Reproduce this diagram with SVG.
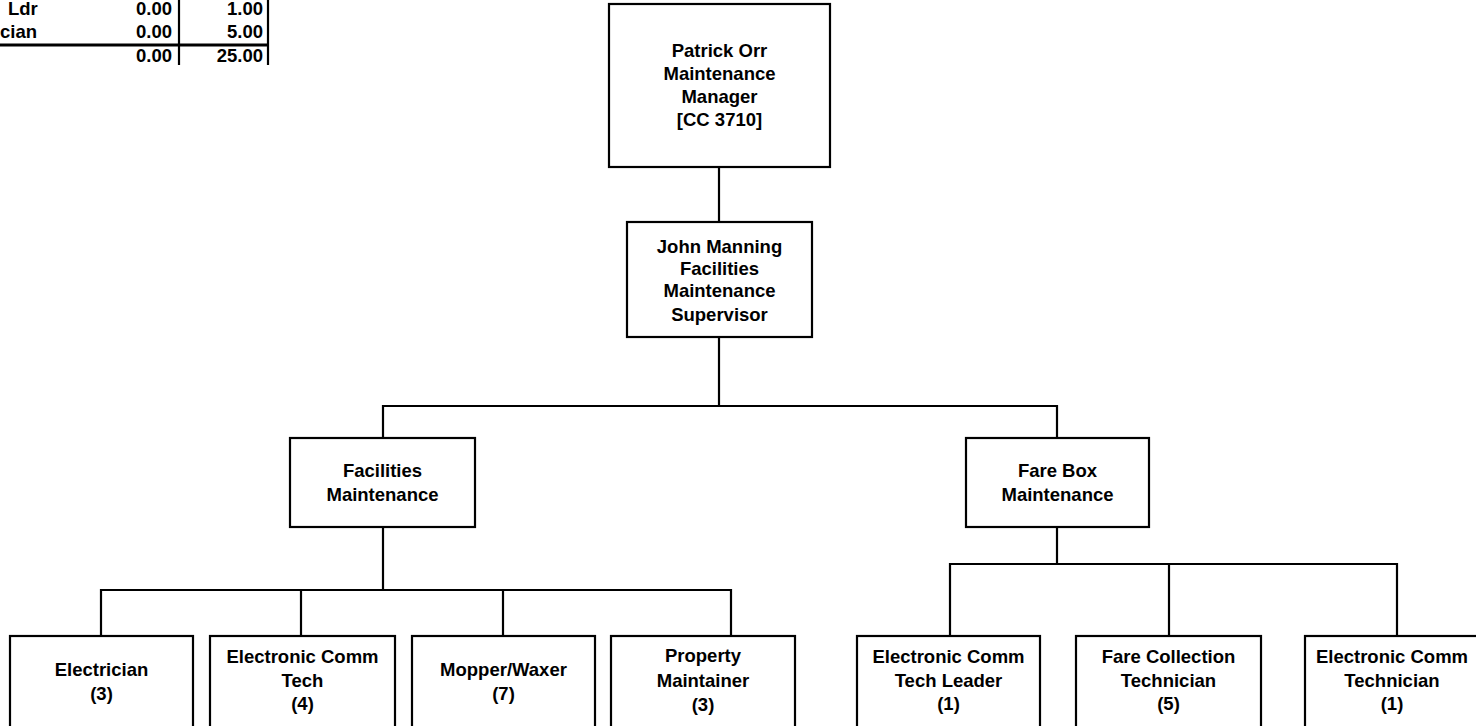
<svg xmlns="http://www.w3.org/2000/svg" width="1476" height="726" viewBox="0 0 1476 726">
<style>
.box{fill:#fff;stroke:#000;stroke-width:2.2}
.ln{fill:none;stroke:#000;stroke-width:2.2}
text{font-family:"Liberation Sans",Arial,sans-serif;font-weight:bold;font-size:18.5px;fill:#000}
.c{text-anchor:middle}
.r{text-anchor:end}
</style>
<rect width="1476" height="726" fill="#fff"/>
<g id="table">
<text x="8" y="14.5">Ldr</text>
<text class="r" x="172" y="14.5">0.00</text>
<text class="r" x="263" y="14.5">1.00</text>
<text x="0" y="38">cian</text>
<text class="r" x="172" y="38">0.00</text>
<text class="r" x="263" y="38">5.00</text>
<text class="r" x="172" y="62">0.00</text>
<text class="r" x="263" y="62">25.00</text>
<line class="ln" x1="179" y1="0" x2="179" y2="65"/>
<line class="ln" x1="268" y1="0" x2="268" y2="65"/>
<line x1="0" y1="45" x2="269" y2="45" stroke="#000" stroke-width="3"/>
</g>
<g id="connectors">
<path class="ln" d="M719 167V222"/>
<path class="ln" d="M719 337V406"/>
<path class="ln" d="M383 438V406H1057V438"/>
<path class="ln" d="M383 527V590"/>
<path class="ln" d="M101 636V590H731V636"/>
<path class="ln" d="M301 590V636"/>
<path class="ln" d="M503 590V636"/>
<path class="ln" d="M1057 527V564"/>
<path class="ln" d="M950 636V564H1397V636"/>
<path class="ln" d="M1169 564V636"/>
</g>
<g id="manager">
<rect class="box" x="609" y="4" width="221" height="163"/>
<text class="c" x="719.5" y="57">Patrick Orr</text>
<text class="c" x="719.5" y="80">Maintenance</text>
<text class="c" x="719.5" y="103">Manager</text>
<text class="c" x="719.5" y="126">[CC 3710]</text>
</g>
<g id="supervisor">
<rect class="box" x="627" y="222" width="185" height="115"/>
<text class="c" x="719.5" y="253">John Manning</text>
<text class="c" x="719.5" y="275">Facilities</text>
<text class="c" x="719.5" y="297">Maintenance</text>
<text class="c" x="719.5" y="321">Supervisor</text>
</g>
<g id="facilities">
<rect class="box" x="290" y="438" width="185" height="89"/>
<text class="c" x="382.5" y="477">Facilities</text>
<text class="c" x="382.5" y="501">Maintenance</text>
</g>
<g id="farebox">
<rect class="box" x="966" y="438" width="183" height="89"/>
<text class="c" x="1057.5" y="477">Fare Box</text>
<text class="c" x="1057.5" y="501">Maintenance</text>
</g>
<g id="electrician">
<rect class="box" x="10" y="636" width="183" height="110"/>
<text class="c" x="101.5" y="676">Electrician</text>
<text class="c" x="101.5" y="700">(3)</text>
</g>
<g id="ecomm-tech">
<rect class="box" x="210" y="636" width="185" height="110"/>
<text class="c" x="302.5" y="663">Electronic Comm</text>
<text class="c" x="302.5" y="687">Tech</text>
<text class="c" x="302.5" y="710">(4)</text>
</g>
<g id="mopper">
<rect class="box" x="412" y="636" width="183" height="110"/>
<text class="c" x="503.5" y="676">Mopper/Waxer</text>
<text class="c" x="503.5" y="700">(7)</text>
</g>
<g id="property">
<rect class="box" x="611" y="636" width="184" height="110"/>
<text class="c" x="703" y="662">Property</text>
<text class="c" x="703" y="687">Maintainer</text>
<text class="c" x="703" y="711">(3)</text>
</g>
<g id="ecomm-leader">
<rect class="box" x="857" y="636" width="183" height="110"/>
<text class="c" x="948.5" y="663">Electronic Comm</text>
<text class="c" x="948.5" y="687">Tech Leader</text>
<text class="c" x="948.5" y="710">(1)</text>
</g>
<g id="fare-collection">
<rect class="box" x="1076" y="636" width="185" height="110"/>
<text class="c" x="1168.5" y="663">Fare Collection</text>
<text class="c" x="1168.5" y="687">Technician</text>
<text class="c" x="1168.5" y="710">(5)</text>
</g>
<g id="ecomm-technician">
<rect class="box" x="1305" y="636" width="190" height="110"/>
<text class="c" x="1392" y="663">Electronic Comm</text>
<text class="c" x="1392" y="687">Technician</text>
<text class="c" x="1392" y="710">(1)</text>
</g>
</svg>
